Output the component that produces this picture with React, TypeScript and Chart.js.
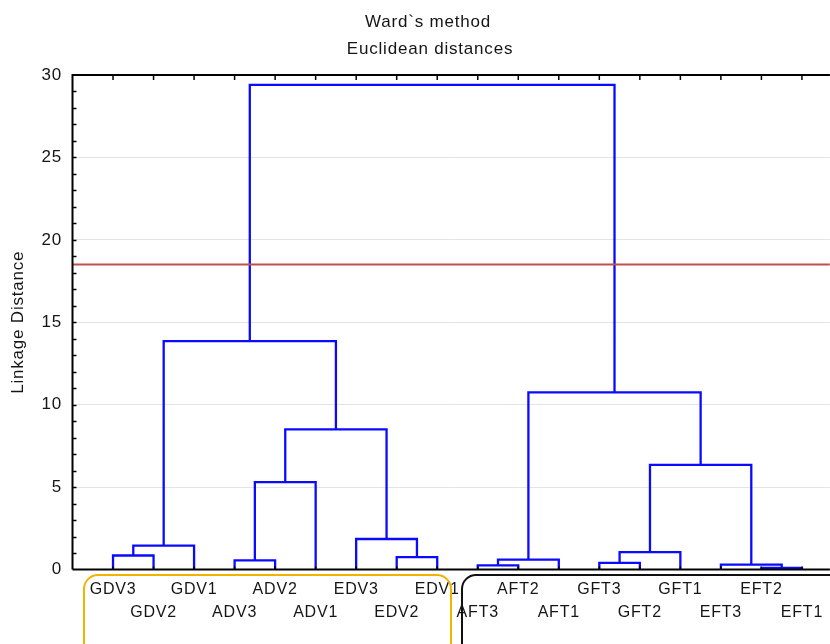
import { useEffect, useRef } from "react";
import { Chart, registerables } from "chart.js";
Chart.register(...registerables);

// ---- data ----
const leafLabels = [
  "GDV3", "GDV2", "GDV1", "ADV3", "ADV2", "ADV1", "EDV3", "EDV2", "EDV1",
  "AFT3", "AFT2", "AFT1", "GFT3", "GFT2", "GFT1", "EFT3", "EFT2", "EFT1",
];
// merge k creates cluster "C" + k
const mergeLeft = [
  "GDV3", "C0", "ADV3", "C2", "EDV2", "EDV3", "C3", "C1",
  "AFT3", "C8", "GFT3", "C10", "EFT2", "EFT3", "C11", "C9", "C7",
];
const mergeRight = [
  "GDV2", "GDV1", "ADV2", "ADV1", "EDV1", "C4", "C5", "C6",
  "AFT2", "AFT1", "GFT2", "GFT1", "EFT1", "C12", "C13", "C14", "C15",
];
const mergeHeight = [
  0.85, 1.45, 0.55, 5.3, 0.75, 1.85, 8.5, 13.85,
  0.25, 0.6, 0.4, 1.05, 0.1, 0.3, 6.35, 10.75, 29.4,
];
const cutHeight = 18.5;
const titleLines = ["Ward`s method", "Euclidean distances"];
const yAxisTitle = "Linkage Distance";
const yTickValues = [0, 5, 10, 15, 20, 25, 30];

const BLUE = "rgb(10,10,255)";
const RED = "#c0504d";
const TEXT = "#151515";
const FONT = "'Liberation Sans', Arial, sans-serif";

export default function App() {
  const ref = useRef<HTMLCanvasElement>(null);

  useEffect(() => {
    if (!ref.current) return;

    const nodes: Record<string, { x: number; h: number }> = {};
    leafLabels.forEach((n, i) => (nodes[n] = { x: i + 1, h: 0 }));
    const linkDatasets = mergeHeight.map((h, k) => {
      const a = nodes[mergeLeft[k]];
      const b = nodes[mergeRight[k]];
      nodes["C" + k] = { x: (a.x + b.x) / 2, h };
      return {
        data: [
          { x: a.x, y: a.h },
          { x: a.x, y: h },
          { x: b.x, y: h },
          { x: b.x, y: b.h },
        ],
        showLine: true,
        borderColor: BLUE,
        borderWidth: 2.3,
        pointRadius: 0,
        borderJoinStyle: "miter" as const,
        tension: 0,
      };
    });

    const xMax = leafLabels.length + 0.69;
    const yMin = yTickValues[0];
    const yMax = yTickValues[yTickValues.length - 1];

    const cutDataset = {
      data: [
        { x: 0, y: cutHeight },
        { x: xMax, y: cutHeight },
      ],
      showLine: true,
      borderColor: RED,
      borderWidth: 2,
      pointRadius: 0,
    };

    const spacing = {
      id: "spacing",
      beforeDraw(chart: any) {
        chart.ctx.letterSpacing = "0.8px";
      },
    };

    const frame = {
      id: "frame",
      afterDraw(chart: any) {
        const { ctx, chartArea: ca, scales } = chart;
        const xs = scales.x;
        const ys = scales.y;
        ctx.save();
        ctx.strokeStyle = "#000";
        ctx.lineWidth = 1.5;
        // left minor ticks (inward)
        for (let v = yMin + 1; v < yMax; v++) {
          const py = Math.round(ys.getPixelForValue(v)) + 0.5;
          ctx.beginPath();
          ctx.moveTo(ca.left, py);
          ctx.lineTo(ca.left + 4, py);
          ctx.stroke();
        }
        // top & bottom ticks at leaves
        leafLabels.forEach((_, i) => {
          const px = xs.getPixelForValue(i + 1);
          ctx.beginPath();
          ctx.moveTo(px, ca.top);
          ctx.lineTo(px, ca.top + 5);
          ctx.stroke();
          ctx.beginPath();
          ctx.moveTo(px, ca.bottom);
          ctx.lineTo(px, ca.bottom - 3);
          ctx.stroke();
        });
        // axis lines
        ctx.lineWidth = 2;
        ctx.beginPath();
        ctx.moveTo(ca.left, ca.bottom);
        ctx.lineTo(ca.left, ca.top);
        ctx.lineTo(ca.right, ca.top);
        ctx.moveTo(ca.left, ca.bottom);
        ctx.lineTo(ca.right, ca.bottom);
        ctx.stroke();

        // group boxes
        ctx.lineWidth = 2;
        ctx.strokeStyle = "#f0b400";
        ctx.beginPath();
        ctx.roundRect(84, 575, 367, 90, 14);
        ctx.stroke();
        ctx.strokeStyle = "#111";
        ctx.beginPath();
        ctx.roundRect(462, 575, 400, 90, 14);
        ctx.stroke();

        // titles
        ctx.fillStyle = TEXT;
        ctx.font = `17px ${FONT}`;
        ctx.textAlign = "center";
        ctx.textBaseline = "middle";
        ctx.fillText(titleLines[0], 428, 22);
        ctx.fillText(titleLines[1], 430, 49);
        ctx.restore();
      },
    };

    const chart = new Chart(ref.current, {
      type: "scatter",
      data: { datasets: [cutDataset, ...linkDatasets] as any },
      options: {
        animation: false,
        responsive: false,
        layout: { padding: { top: 75, left: 0, right: 0, bottom: 0 } },
        plugins: {
          legend: { display: false },
          tooltip: { enabled: false },
          title: { display: false },
        },
        scales: {
          x: {
            type: "linear",
            min: 0,
            max: xMax,
            grid: { display: false, drawTicks: false },
            border: { display: false },
            afterBuildTicks: (axis: any) => {
              axis.ticks = leafLabels.map((_, i) => ({ value: i + 1 }));
            },
            afterFit: (axis: any) => {
              axis.height = 74.5;
            },
            ticks: {
              autoSkip: false,
              maxRotation: 0,
              minRotation: 0,
              padding: 8.5,
              color: TEXT,
              font: { family: FONT, size: 16, lineHeight: "23px" },
              callback: (_v: any, i: number) =>
                i % 2 === 0 ? [leafLabels[i]] : ["", leafLabels[i]],
            },
          },
          y: {
            type: "linear",
            min: yMin,
            max: yMax,
            afterBuildTicks: (axis: any) => {
              axis.ticks = yTickValues.map((v) => ({ value: v }));
            },
            afterFit: (axis: any) => {
              axis.width = 72.5;
            },
            border: { display: false },
            grid: {
              drawTicks: false,
              color: (c: any) =>
                c.tick && (c.tick.value === yMin || c.tick.value === yMax)
                  ? "rgba(0,0,0,0)"
                  : "#e4e4e4",
            },
            ticks: {
              padding: 10.5,
              color: TEXT,
              font: { family: FONT, size: 17 },
            },
            title: {
              display: true,
              text: yAxisTitle,
              color: TEXT,
              font: { family: FONT, size: 17 },
              padding: { top: 8, bottom: 0 },
            },
          },
        },
      },
      plugins: [spacing, frame],
    });

    return () => chart.destroy();
  }, []);

  return (
    <div style={{ position: "fixed", left: 0, top: 0, width: 830, height: 644, background: "#fff" }}>
      <canvas ref={ref} width={830} height={644} style={{ display: "block" }} />
    </div>
  );
}
